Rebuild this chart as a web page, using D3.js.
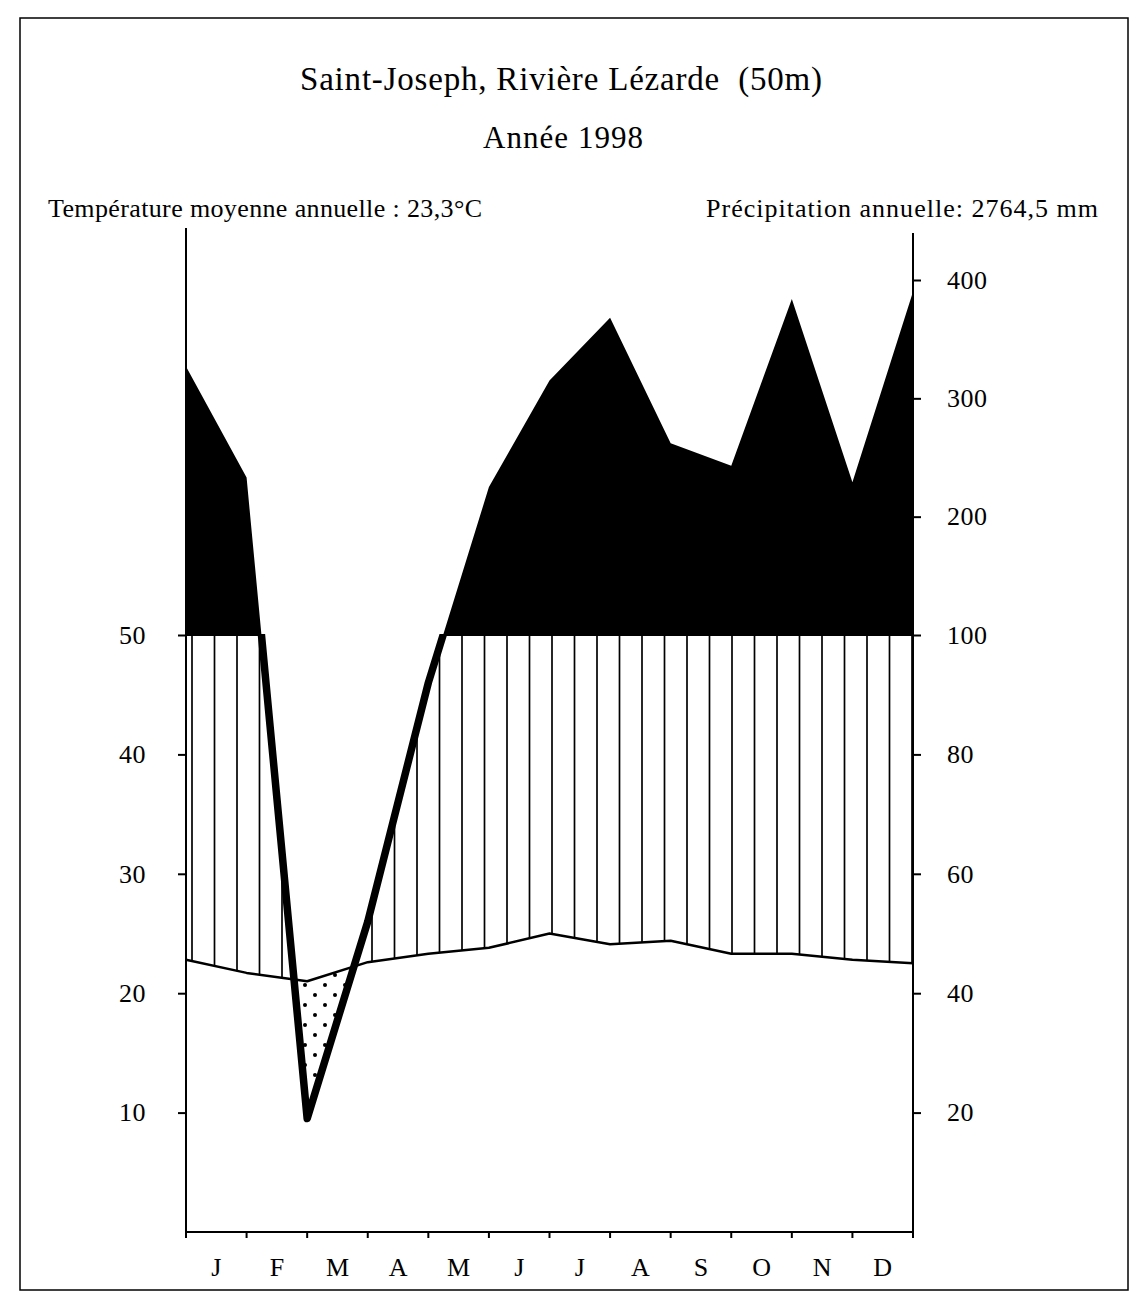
<!DOCTYPE html>
<html>
<head>
<meta charset="utf-8">
<script src="https://cdn.jsdelivr.net/npm/d3@7"></script>
<style>
  html, body { margin: 0; padding: 0; background: #fff; }
  svg { display: block; }
  text { font-family: "Liberation Serif", "Times New Roman", serif; fill: #000; white-space: pre; }
</style>
</head>
<body>
<script>
// ---- data ----
const months = ["J","F","M","A","M","J","J","A","S","O","N","D"];
// values read at the 13 month boundaries
const precipitation = [327, 233, 19, 52, 92, 225, 315, 368, 262, 243, 384, 229, 390]; // mm
const temperature   = [22.8, 21.7, 21.0, 22.6, 23.3, 23.8, 25.0, 24.1, 24.4, 23.3, 23.3, 22.8, 22.5]; // °C
const tempTicks   = [10, 20, 30, 40, 50];
const precipTicks = [20, 40, 60, 80, 100, 200, 300, 400];
const titleText = "Saint-Joseph, Rivière Lézarde  (50m)";
const subtitleText = "Année 1998";
const leftNote = "Température moyenne annuelle : 23,3°C";
const rightNote = "Précipitation annuelle: 2764,5 mm";

// ---- layout ----
const W = 1138, H = 1308;
const x0 = 186, x1 = 913, yBase = 1232, y100 = 635;

const svg = d3.select("body").append("svg").attr("width", W).attr("height", H);

const x = d3.scaleLinear().domain([0, 12]).range([x0, x1]);
const yT = d3.scaleLinear().domain([0, 50]).range([yBase, y100]);
const yP = d3.scaleLinear().domain([0, 100, 400]).range([yBase, y100, 280]);

const idx = d3.range(precipitation.length);

// frame
svg.append("rect").attr("x", 20).attr("y", 18).attr("width", 1108).attr("height", 1272)
  .attr("fill", "none").attr("stroke", "#000").attr("stroke-width", 1.5);

const defs = svg.append("defs");

// clip paths
defs.append("clipPath").attr("id", "belowPrecip").append("path")
  .attr("d", d3.area().x(i => x(i)).y0(yBase).y1(i => yP(precipitation[i]))(idx));
defs.append("clipPath").attr("id", "abovePrecip").append("path")
  .attr("d", d3.area().x(i => x(i)).y0(0).y1(i => yP(precipitation[i]))(idx));
defs.append("clipPath").attr("id", "aboveTemp").append("path")
  .attr("d", d3.area().x(i => x(i)).y0(0).y1(i => yT(temperature[i]))(idx));
defs.append("clipPath").attr("id", "belowTemp").append("path")
  .attr("d", d3.area().x(i => x(i)).y0(yBase).y1(i => yT(temperature[i]))(idx));
defs.append("clipPath").attr("id", "upper").append("rect")
  .attr("x", 0).attr("y", 0).attr("width", W).attr("height", y100 + 1);
defs.append("clipPath").attr("id", "lower").append("rect")
  .attr("x", 0).attr("y", y100 - 1).attr("width", W).attr("height", H);

// dot pattern
const pat = defs.append("pattern").attr("id", "dots").attr("patternUnits", "userSpaceOnUse")
  .attr("width", 20).attr("height", 20);
pat.append("circle").attr("cx", 5).attr("cy", 5).attr("r", 2).attr("fill", "#000");
pat.append("circle").attr("cx", 15).attr("cy", 15).attr("r", 2).attr("fill", "#000");

// humid period hatching (precip above temp, below 100 mm)
const hatch = svg.append("g").attr("clip-path", "url(#belowPrecip)")
  .append("g").attr("clip-path", "url(#aboveTemp)");
hatch.selectAll("line").data(d3.range(x0 + 6, x1, 22.5)).join("line")
  .attr("x1", d => d).attr("x2", d => d)
  .attr("y1", y100).attr("y2", yBase)
  .attr("stroke", "#000").attr("stroke-width", 1.7);

// arid period dots (precip below temp)
svg.append("g").attr("clip-path", "url(#abovePrecip)")
  .append("g").attr("clip-path", "url(#belowTemp)")
  .append("rect").attr("x", x0).attr("y", y100).attr("width", x1 - x0).attr("height", yBase - y100)
  .attr("fill", "url(#dots)");

// super-humid area (above 100 mm) in black
svg.append("path").attr("clip-path", "url(#upper)")
  .attr("d", d3.area().x(i => x(i)).y0(y100 + 1).y1(i => yP(precipitation[i]))(idx))
  .attr("fill", "#000");

// temperature curve
svg.append("path")
  .attr("d", d3.line().x(i => x(i)).y(i => yT(temperature[i]))(idx))
  .attr("fill", "none").attr("stroke", "#000").attr("stroke-width", 2.5).attr("stroke-linejoin", "round");

// precipitation curve (thick, visible below 100 mm)
svg.append("path").attr("clip-path", "url(#lower)")
  .attr("d", d3.line().x(i => x(i)).y(i => yP(precipitation[i]))(idx))
  .attr("fill", "none").attr("stroke", "#000").attr("stroke-width", 7.5).attr("stroke-linejoin", "round")
  .attr("stroke-linecap", "round");

// left axis
const leftAxis = svg.append("g").attr("transform", `translate(${x0},0)`)
  .call(d3.axisLeft(yT).tickValues(tempTicks).tickSize(8).tickPadding(32).tickFormat(d3.format("d")));
leftAxis.select(".domain").remove();
leftAxis.append("line").attr("x1", 0).attr("x2", 0).attr("y1", 228).attr("y2", yBase)
  .attr("stroke", "#000").attr("stroke-width", 2);
leftAxis.selectAll(".tick line").attr("stroke-width", 2);
leftAxis.selectAll(".tick text").attr("font-size", 26).attr("letter-spacing", 0.5)
  .attr("font-family", "Liberation Serif");

// right axis
const rightAxis = svg.append("g").attr("transform", `translate(${x1},0)`)
  .call(d3.axisRight(yP).tickValues(precipTicks).tickSize(8).tickPadding(26).tickFormat(d3.format("d")));
rightAxis.select(".domain").remove();
rightAxis.append("line").attr("x1", 0).attr("x2", 0).attr("y1", 233).attr("y2", yBase)
  .attr("stroke", "#000").attr("stroke-width", 2);
rightAxis.selectAll(".tick line").attr("stroke-width", 2);
rightAxis.selectAll(".tick text").attr("font-size", 26).attr("letter-spacing", 0.5)
  .attr("font-family", "Liberation Serif");

// bottom axis (month boundaries)
const bottom = svg.append("g").attr("transform", `translate(0,${yBase})`);
bottom.append("line").attr("x1", x0).attr("x2", x1).attr("y1", 0).attr("y2", 0)
  .attr("stroke", "#000").attr("stroke-width", 2);
bottom.selectAll("line.tk").data(d3.range(13)).join("line").attr("class", "tk")
  .attr("x1", d => x(d)).attr("x2", d => x(d)).attr("y1", 0).attr("y2", 6)
  .attr("stroke", "#000").attr("stroke-width", 2);
bottom.selectAll("text").data(months).join("text")
  .attr("x", (d, i) => x(i + 0.5)).attr("y", 44)
  .attr("text-anchor", "middle").attr("font-size", 26).text(d => d);

// titles
svg.append("text").attr("x", 561).attr("y", 90).attr("text-anchor", "middle")
  .attr("font-size", 33).attr("textLength", 522).attr("lengthAdjust", "spacing").text(titleText);
svg.append("text").attr("x", 563).attr("y", 148).attr("text-anchor", "middle")
  .attr("font-size", 31).attr("textLength", 160).attr("lengthAdjust", "spacing").text(subtitleText);
svg.append("text").attr("x", 48).attr("y", 217).attr("font-size", 26)
  .attr("textLength", 434).attr("lengthAdjust", "spacing").text(leftNote);
svg.append("text").attr("x", 1098).attr("y", 217).attr("text-anchor", "end")
  .attr("font-size", 26).attr("textLength", 392).attr("lengthAdjust", "spacing").text(rightNote);
</script>
</body>
</html>
